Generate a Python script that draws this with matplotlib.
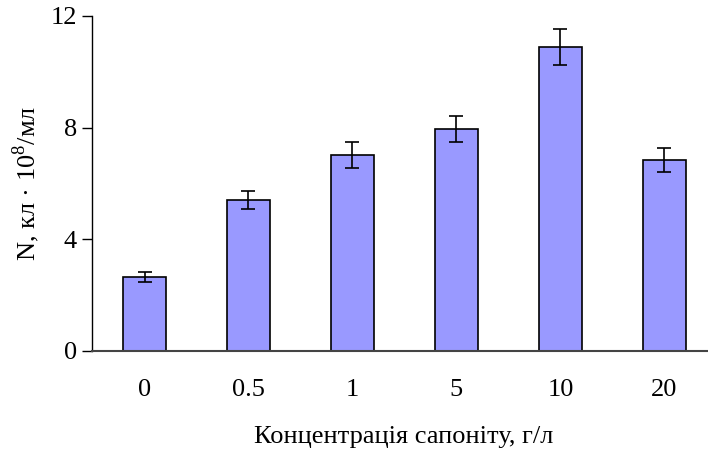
import matplotlib
matplotlib.use("Agg")
import matplotlib.pyplot as plt
import numpy as np

categories = ["0", "0.5", "1", "5", "10", "20"]
values = [2.65, 5.40, 7.02, 7.94, 10.89, 6.84]
errors = [0.17, 0.32, 0.45, 0.47, 0.65, 0.43]
yticks = [0, 4, 8, 12]

plt.rcParams['font.family'] = 'serif'
plt.rcParams['font.serif'] = ['Liberation Serif', 'Times New Roman', 'DejaVu Serif']
plt.rcParams['mathtext.fontset'] = 'custom'
plt.rcParams['mathtext.rm'] = 'Liberation Serif'

fig = plt.figure(figsize=(7.08, 4.54), dpi=100)
ax = fig.add_axes([0.130, 0.2269, 0.870, 0.7379])

x = np.arange(len(categories))
ax.bar(x, values, width=0.414, color='#9999FF', edgecolor='black', linewidth=1.2,
       yerr=errors, capsize=5, error_kw=dict(ecolor='black', elinewidth=1.2, capthick=1.2), zorder=2)

ax.set_xlim(-0.505, 5.42)
ax.set_ylim(0, 12)
ax.set_yticks(yticks)
ax.set_xticks(x)
ax.set_xticklabels(categories)
ax.tick_params(axis='x', length=0, pad=20, labelsize=19)
ax.tick_params(axis='y', length=7, width=1, pad=4, labelsize=19)
for s in ['top', 'right']:
    ax.spines[s].set_visible(False)
ax.spines['left'].set_linewidth(1)
ax.spines['bottom'].set_linewidth(1.5)
ax.spines['bottom'].set_color('#444444')

ax.set_ylabel(r"N, кл · 10$^{8}$/мл", fontsize=19, labelpad=6)
ax.set_xlabel("Концентрація сапоніту, г/л", fontsize=19)
ax.xaxis.set_label_coords(0.506, -0.225)

fig.savefig("out.png", dpi=100)
